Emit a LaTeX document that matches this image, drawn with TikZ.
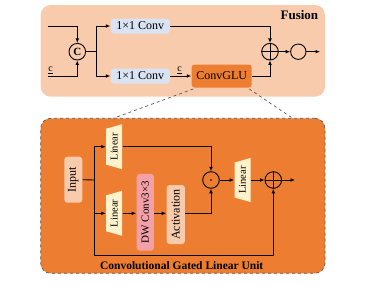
\documentclass[tikz,border=0pt]{standalone}
\usepackage{fontspec}
\setmainfont{Liberation Serif}
\usepackage{graphicx}
\usetikzlibrary{arrows.meta,calc}
\definecolor{fusionbg}{HTML}{F8CBAD}
\definecolor{convfill}{HTML}{DAE3F3}
\definecolor{glufill}{HTML}{ED7D31}
\definecolor{innerfill}{HTML}{ED7D31}
\definecolor{peach}{HTML}{F8CBAD}
\definecolor{linfill}{HTML}{FFF2CC}
\definecolor{dwfill}{HTML}{F4A0A8}
\definecolor{dashgray}{HTML}{595959}
\begin{document}
\begin{tikzpicture}[x=1pt,y=-1pt,
  line width=0.9pt,
  arr/.style={-{Latex[length=4.5pt,width=3.8pt]}},
  convbox/.style={fill=convfill,rounded corners=3pt,minimum width=59pt,minimum height=15pt,inner sep=0pt,font=\fontsize{12}{12}\selectfont},
  glubox/.style={fill=glufill,rounded corners=3pt,minimum width=60pt,minimum height=23pt,inner sep=0pt,font=\fontsize{12}{12}\selectfont},
  opcirc/.style={circle,draw=black,line width=0.9pt,minimum size=16.6pt,inner sep=0pt},
  vbox/.style={rounded corners=3pt,inner sep=0pt},
  linbox/.style={minimum width=16pt,inner sep=0pt,font=\fontsize{10.5}{10.5}\selectfont,
    path picture={\fill[linfill] ([yshift=-4.5pt]path picture bounding box.north west) -- (path picture bounding box.north east) -- (path picture bounding box.south east) -- ([yshift=4.5pt]path picture bounding box.south west) -- cycle;}}
]
\useasboundingbox (0,0) rectangle (376,290);

% Fusion block
\node[fill=fusionbg,rounded corners=10pt,minimum width=284.3pt,minimum height=91.7pt,inner sep=0pt] (fusion) at (182.85,50.85) {};
\node[anchor=east,font=\bfseries\fontsize{13}{13}\selectfont] (fusiontitle) at (322,15) {Fusion};

\node[convbox] (conv1) at (140.3,26) {1×1 Conv};
\node[convbox] (conv2) at (140.3,76) {1×1 Conv};
\node[glubox] (glu) at (221.7,76) {ConvGLU};
\node[opcirc] (cat) at (77.3,51.7) {};
\node[font=\bfseries\fontsize{11}{11}\selectfont] (catlabel) at (cat) {C};
\node[opcirc] (plus1) at (270,51.7) {};
\draw (plus1.north) -- (plus1.south) (plus1.west) -- (plus1.east);
\node[opcirc,minimum size=15.4pt] (outc) at (298.3,51.7) {};

\coordinate (in1) at (48,26);
\coordinate (in2) at (48,76);
\coordinate (split1) at (96.7,51.7);
\coordinate (out1) at (320,51.7);
\node[font=\fontsize{10}{10}\selectfont,inner sep=0pt] (c1) at (50.5,70.5) {\underline{c}};
\node[font=\fontsize{10}{10}\selectfont,inner sep=0pt] (c2) at (179.5,70) {\underline{c}};

\draw[arr] (in1) -| (cat.north);
\draw[arr] (in2) -| (cat.south);
\draw (cat.east) -- (split1);
\draw[arr] (split1) |- (conv1.west);
\draw[arr] (split1) |- (conv2.west);
\draw[arr] (conv2.east) -- (glu.west);
\draw[arr] (conv1.east) -| (plus1.north);
\draw[arr] (glu.east) -| (plus1.south);
\draw[arr] (plus1.east) -- (outc.west);
\draw[arr] (outc.east) -- (out1);

% Inner block
\node[fill=innerfill,draw=dashgray,dashed,line width=0.7pt,rounded corners=10pt,minimum width=284.3pt,minimum height=155pt,inner sep=0pt] (inner) at (182.85,195.8) {};
\coordinate (zl) at (113.3,118.3);
\coordinate (zr) at (292.7,118.3);
\draw[dashgray,dashed,line width=0.7pt] ([shift={(2pt,-1pt)}]glu.south west) -- (zl);
\draw[dashgray,dashed,line width=0.7pt] ([shift={(-3pt,-1pt)}]glu.south east) -- (zr);
\node[font=\bfseries\fontsize{11.5}{11.5}\selectfont] (innertitle) at (181.7,265.5) {Convolutional Gated Linear Unit};

\node[vbox,fill=peach,minimum width=18pt,minimum height=46pt,font=\fontsize{12}{12}\selectfont] (input) at (73.3,179.7) {\rotatebox{90}{Input}};
\node[linbox,minimum height=45pt] (lin1) at (114.2,146.7) {\rotatebox{90}{Linear}};
\node[linbox,minimum height=45pt] (lin2) at (114.2,213.3) {\rotatebox{90}{Linear}};
\node[vbox,fill=dwfill,minimum width=17.3pt,minimum height=76.7pt,font=\fontsize{11}{11}\selectfont] (dw) at (145.3,212.3) {\rotatebox{90}{DW Conv3×3}};
\node[vbox,fill=peach,minimum width=18.3pt,minimum height=59pt,font=\fontsize{12}{12}\selectfont] (act) at (175.8,214.5) {\rotatebox{90}{Activation}};
\node[opcirc] (dot) at (211,180) {};
\fill (dot.center) circle (0.9pt);
\node[linbox,minimum height=44pt] (lin3) at (242.5,180) {\rotatebox{90}{Linear}};
\node[opcirc] (plus2) at (273.3,180) {};
\draw (plus2.north) -- (plus2.south) (plus2.west) -- (plus2.east);

\coordinate (split2) at (94,180);
\coordinate (bl) at (94,255);
\coordinate (out2) at (295,180);

\draw (input.east) -- (split2);
\draw[arr] (split2) |- (lin1.west);
\draw[arr] (split2) |- (lin2.west);
\draw[arr] (split2) -- (bl) -| (plus2.south);
\draw[arr] (lin2.east) -- (lin2.east -| dw.west);
\draw[arr] (lin2.east -| dw.east) -- (lin2.east -| act.west);
\draw[arr] (lin1.east) -| (dot.north);
\draw[arr] (lin2.east -| act.east) -| (dot.south);
\draw[arr] (dot.east) -- (lin3.west);
\draw[arr] (lin3.east) -- (plus2.west);
\draw[arr] (plus2.east) -- (out2);
\end{tikzpicture}
\end{document}
